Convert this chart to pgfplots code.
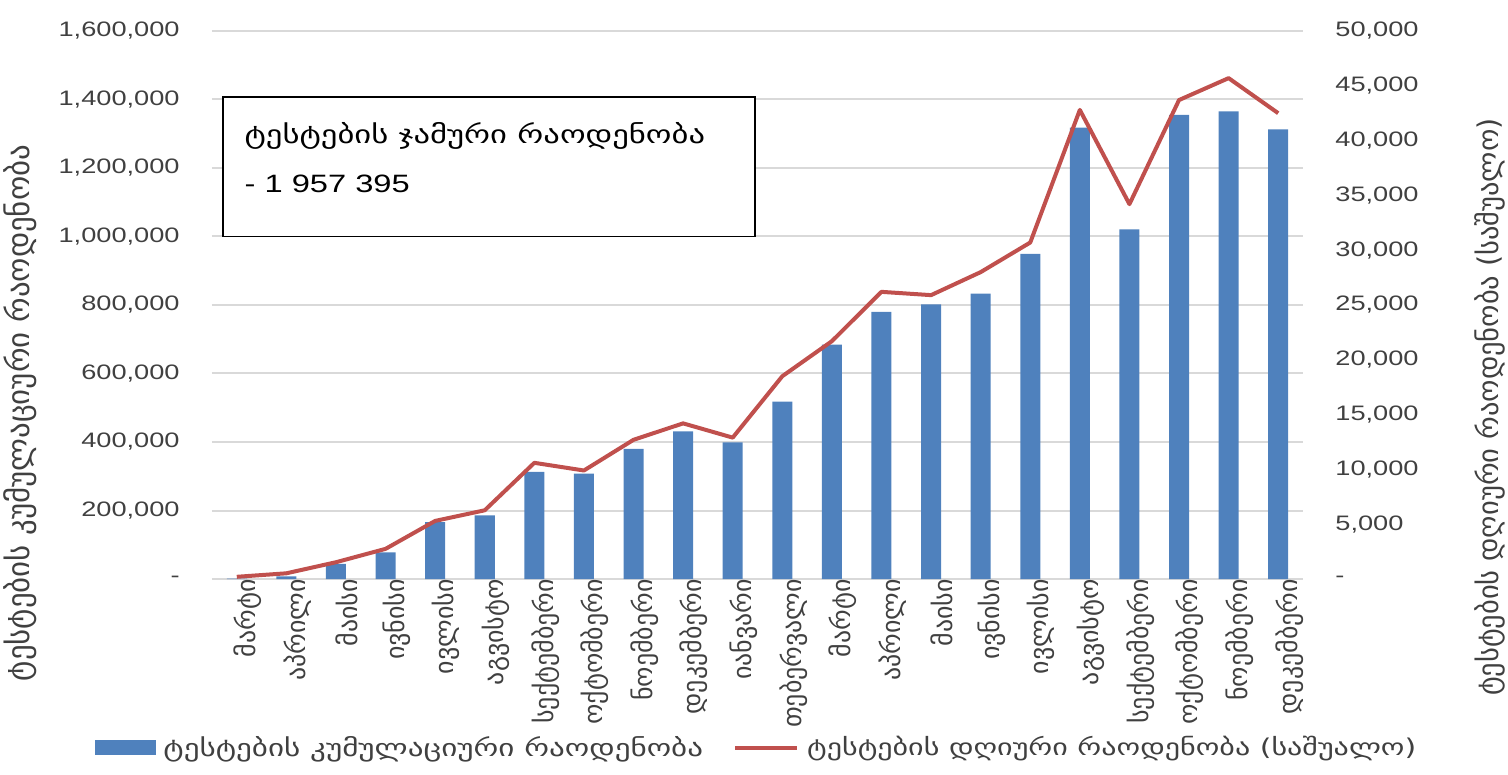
\documentclass[border=0pt]{standalone}
\usepackage{fontspec}
\setmainfont{Liberation Sans}[FakeStretch=1.3]
\newfontfamily\geo{DejaVu Sans}[FakeStretch=1.3]
\newfontfamily\geor{DejaVu Sans}
\usepackage{pgfplots}
\pgfplotsset{compat=1.18}
\definecolor{barblue}{HTML}{4F81BD}
\definecolor{linered}{HTML}{C0504D}
\definecolor{txt}{HTML}{404040}
\definecolor{gridc}{HTML}{D9D9D9}
\begin{document}
\begin{tikzpicture}
\useasboundingbox (-106bp,-98bp) rectangle (648bp,289.5bp);
\begin{axis}[
  scale only axis, width=545.5bp, height=274bp,
  at={(0,0)}, anchor=south west,
  xmin=-0.5, xmax=21.5, ymin=0, ymax=1600000,
  scaled y ticks=false,
  axis x line*=bottom, axis y line*=left,
  x axis line style={draw=gridc, line width=1bp, -},
  y axis line style={draw=none},
  major tick length=0pt,
  ymajorgrids, grid style={draw=gridc, line width=1bp},
  ytick={0,200000,400000,600000,800000,1000000,1200000,1400000,1600000},
  yticklabels={{-},{200,000},{400,000},{600,000},{800,000},{1,000,000},{1,200,000},{1,400,000},{1,600,000}},
  yticklabel style={font=\fontsize{10.5}{12}\selectfont, text=txt, inner sep=0pt, xshift=-16bp, anchor=east},
  xtick={0,...,21},
  xticklabels={მარტი,აპრილი,მაისი,ივნისი,ივლისი,აგვისტო,სექტემბერი,ოქტომბერი,ნოემბერი,დეკემბერი,იანვარი,თებერვალი,მარტი,აპრილი,მაისი,ივნისი,ივლისი,აგვისტო,სექტემბერი,ოქტომბერი,ნოემბერი,დეკემბერი},
  xticklabel style={font=\geor\fontsize{13}{14}\selectfont, text=txt, rotate=90, anchor=east, inner sep=0pt, yshift=-5.5bp},
  clip=false,
]
\addplot[ybar, bar width=10bp, fill=barblue, draw=none] coordinates {
(0,1000) (1,8000) (2,44000) (3,78000) (4,166000) (5,186000) (6,313000) (7,308000) (8,380000) (9,431000) (10,399000)
(11,518000) (12,684000) (13,780000) (14,802000) (15,833000) (16,949000) (17,1318000) (18,1021000) (19,1355000) (20,1365000) (21,1313000)};
\draw[black, line width=0.75bp, fill=white] (axis cs:-0.28,1000000) rectangle (axis cs:10.45,1407000);
\node[anchor=north west, align=left, inner sep=0pt, text=black, font=\fontsize{12.6}{25}\selectfont] at (axis cs:0.15,1335000) {{\geo ტესტების ჯამური რაოდენობა}\\- 1 957 395};
\end{axis}
\begin{axis}[
  scale only axis, width=545.5bp, height=274bp,
  at={(0,0)}, anchor=south west,
  xmin=-0.5, xmax=21.5, ymin=0, ymax=50000,
  scaled y ticks=false,
  axis x line=none, axis y line*=right,
  y axis line style={draw=none},
  major tick length=0pt,
  ytick={0,5000,10000,15000,20000,25000,30000,35000,40000,45000,50000},
  yticklabels={{-},{5,000},{10,000},{15,000},{20,000},{25,000},{30,000},{35,000},{40,000},{45,000},{50,000}},
  yticklabel style={font=\fontsize{10.5}{12}\selectfont, text=txt, inner sep=0pt, xshift=16bp, anchor=west},
  legend style={at={(0.5,-0.308)}, anchor=center, draw=none, fill=none, legend columns=2,
    font=\geo\fontsize{12}{13}\selectfont, text=txt, column sep=2bp, inner sep=0pt,
    /tikz/every even column/.append style={column sep=13bp}},
  clip=false,
]
\addlegendimage{legend image code/.code={\fill[barblue] (0bp,-3.5bp) rectangle (30bp,3.5bp);}}
\addlegendentry{ტესტების კუმულაციური რაოდენობა}
\addplot[linered, line width=2bp, line join=round, legend image code/.code={\draw[linered, line width=2bp] (0bp,0bp) -- (31bp,0bp);}] coordinates {
(0,200) (1,520) (2,1530) (3,2750) (4,5300) (5,6270) (6,10600) (7,9900) (8,12700) (9,14200) (10,12900)
(11,18500) (12,21700) (13,26200) (14,25900) (15,28000) (16,30700) (17,42800) (18,34200) (19,43700) (20,45700) (21,42500)};
\addlegendentry{\fontsize{11.6}{13}\selectfont ტესტების დღიური რაოდენობა (საშუალო)}
\end{axis}
\node[rotate=90, text=txt, font=\geor\fontsize{15.5}{16}\selectfont] at (-96bp,83bp) {ტესტების კუმულაციური რაოდენობა};
\node[rotate=90, text=txt, font=\geor\fontsize{14.3}{15}\selectfont] at (639bp,86bp) {ტესტების დღიური რაოდენობა (საშუალო)};
\end{tikzpicture}
\end{document}
